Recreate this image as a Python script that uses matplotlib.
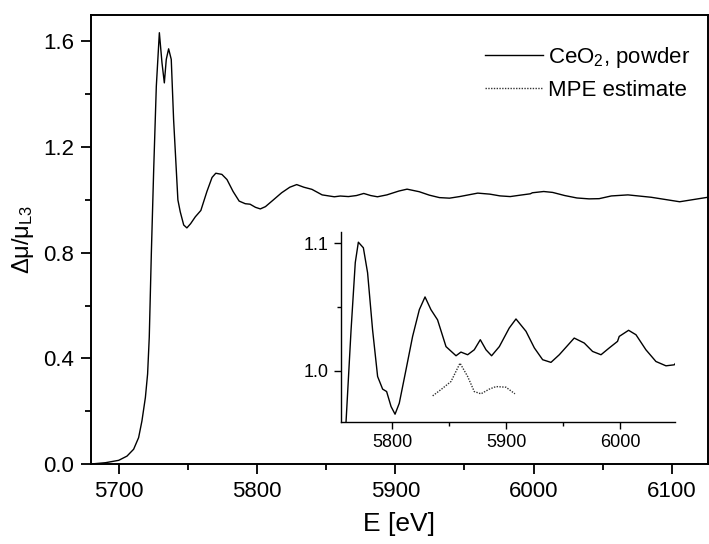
import matplotlib
matplotlib.use("Agg")
import matplotlib.pyplot as plt
from matplotlib.ticker import MultipleLocator

plt.rcParams["font.family"] = ["Liberation Sans", "DejaVu Sans"]
plt.rcParams["mathtext.fontset"] = "custom"
plt.rcParams["mathtext.rm"] = "Liberation Sans"
plt.rcParams["mathtext.it"] = "Liberation Sans"

# CeO2 powder, normalised L3 edge absorption
energy = [
    5679.6, 5690.4, 5700, 5706, 5710.8, 5714.4, 5716.8, 5719.3, 5720.9, 5722.1,
    5723.6, 5725.3, 5727.2, 5729.4, 5731.3, 5733, 5734.4, 5736.1, 5738, 5739.7,
    5742.8, 5744.5, 5747, 5749.3, 5752, 5755.4, 5759.4, 5763.8, 5767.5, 5770.2,
    5774.6, 5778.3, 5782.7, 5787.1, 5791.5, 5795, 5798.9, 5802.4, 5806.1, 5812,
    5817.8, 5823.7, 5828.7, 5833.9, 5839.7, 5847.1, 5855.9, 5860.2, 5866.1, 5871.9,
    5877.2, 5882.2, 5887.1, 5893.9, 5902.6, 5908.5, 5917.3, 5924.6, 5931.9, 5939.2,
    5946.5, 5959.6, 5968.4, 5975.7, 5983.1, 5990.4, 5997.6, 5999.1, 6007.3, 6013.8,
    6022.5, 6031.3, 6040.1, 6047.4, 6056.2, 6068.2, 6085, 6105.6, 6126,
]
mu = [
    0.0, 0.005, 0.014, 0.03, 0.056, 0.10, 0.163, 0.252, 0.341, 0.48,
    0.797, 1.114, 1.43, 1.633, 1.519, 1.443, 1.532, 1.572, 1.532, 1.304,
    1.0, 0.955, 0.905, 0.894, 0.91, 0.936, 0.960, 1.032, 1.085, 1.101,
    1.0966, 1.077, 1.032, 0.9955, 0.9856, 0.9837, 0.9719, 0.9659, 0.9745, 1.0008,
    1.027, 1.048, 1.058, 1.048, 1.040, 1.019, 1.0118, 1.0147, 1.0126, 1.0165,
    1.0244, 1.0165, 1.0118, 1.019, 1.0336, 1.0407, 1.031, 1.018, 1.0087, 1.0066,
    1.0126, 1.0257, 1.0218, 1.0152, 1.0126, 1.018, 1.0231, 1.027, 1.0318, 1.0283,
    1.0165, 1.0073, 1.0039, 1.0047, 1.015, 1.019, 1.010, 0.993, 1.010,
]

# MPE estimate (only shown in the inset)
mpe_energy = [5835.4, 5843.5, 5851.5, 5859.4, 5866.1, 5871.9, 5877.8, 5885.1,
              5891.0, 5899.7, 5907.6]
mpe_mu = [0.9803, 0.9858, 0.9916, 1.006, 0.9955, 0.9837, 0.9819, 0.9856,
          0.9876, 0.9871, 0.9819]

fig = plt.figure(figsize=(7.09, 5.44), dpi=100)
ax = fig.add_axes([0.1284, 0.147, 0.870, 0.8254])

ax.plot(energy, mu, color="black", lw=1.0, label="CeO$_2$, powder")
ax.plot([], [], color="0.2", lw=1.0, ls=(0, (1, 1)), label="MPE estimate")

ax.set_xlim(5680, 6126)
ax.set_ylim(0, 1.70)
ax.xaxis.set_major_locator(MultipleLocator(100))
ax.xaxis.set_minor_locator(MultipleLocator(50))
ax.yaxis.set_major_locator(MultipleLocator(0.4))
ax.yaxis.set_minor_locator(MultipleLocator(0.2))
ax.yaxis.set_major_formatter(plt.FormatStrFormatter("%.1f"))
ax.tick_params(which="major", direction="out", length=7, width=1.3,
               labelsize=16, pad=5)
ax.tick_params(which="minor", direction="out", length=4, width=1.3)
for sp in ax.spines.values():
    sp.set_linewidth(1.4)

ax.set_xlabel("E [eV]", fontsize=19)
ax.xaxis.set_label_coords(0.5, -0.106)
ax.set_ylabel(r"$\Delta\mu/\mu_{\rm L3}$", fontsize=17)
ax.yaxis.set_label_coords(-0.090, 0.5)

ax.legend(loc="upper left", bbox_to_anchor=(0.684, 0.917),
          bbox_transform=fig.transFigure, frameon=False, fontsize=16,
          handlelength=2.6, handletextpad=0.25, borderpad=0,
          borderaxespad=0, labelspacing=0.45)

# inset zoom on the EXAFS oscillations
ins = fig.add_axes([0.481, 0.2248, 0.471, 0.3487])
ins.plot(energy, mu, color="black", lw=1.0)
ins.plot(mpe_energy, mpe_mu, color="0.2", lw=1.0, ls=(0, (1, 1)))
ins.set_xlim(5755, 6048)
ins.set_ylim(0.960, 1.109)
ins.spines["top"].set_visible(False)
ins.spines["right"].set_visible(False)
ins.patch.set_alpha(0)
ins.xaxis.set_major_locator(MultipleLocator(100))
ins.xaxis.set_minor_locator(MultipleLocator(50))
ins.yaxis.set_major_locator(MultipleLocator(0.1))
ins.yaxis.set_minor_locator(MultipleLocator(0.05))
ins.yaxis.set_major_formatter(plt.FormatStrFormatter("%.1f"))
ins.tick_params(which="major", direction="out", length=5, width=1.0,
                labelsize=13, pad=4)
ins.tick_params(which="minor", direction="out", length=3, width=1.0)
for sp in ("left", "bottom"):
    ins.spines[sp].set_linewidth(1.0)

fig.savefig("out.png", dpi=100)
